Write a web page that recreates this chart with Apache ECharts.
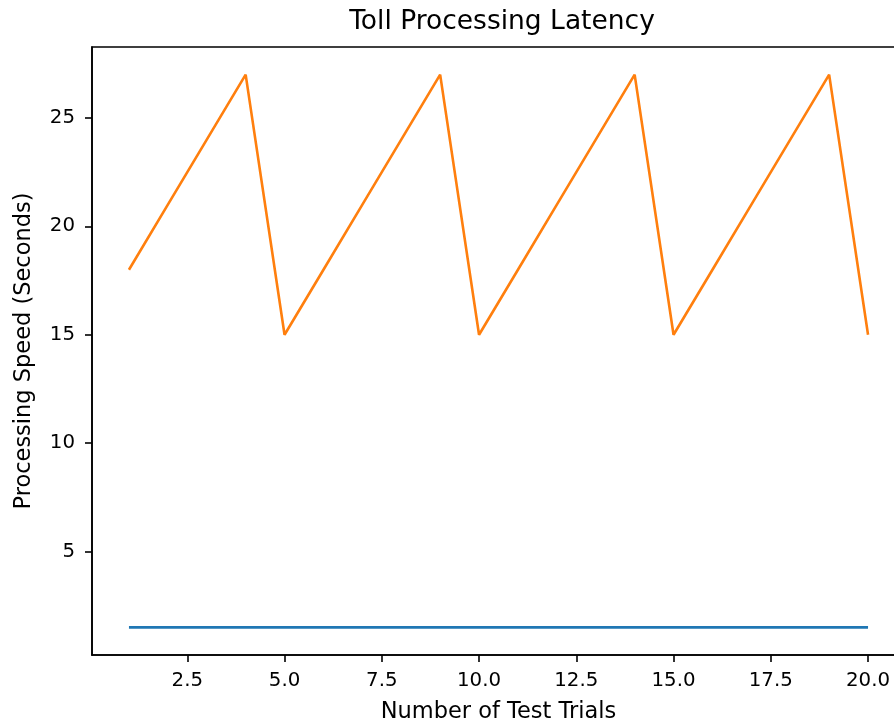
<!DOCTYPE html>
<html><head><meta charset="utf-8">
<script src="https://cdn.jsdelivr.net/npm/echarts@6/dist/echarts.min.js"></script>
<style>html,body{margin:0;padding:0;background:#fff}#c{width:894px;height:722px}</style>
</head><body><div id="c"></div>
<script>
const trials = [1,2,3,4,5,6,7,8,9,10,11,12,13,14,15,16,17,18,19,20];
const seriesA = [1.5,1.5,1.5,1.5,1.5,1.5,1.5,1.5,1.5,1.5,1.5,1.5,1.5,1.5,1.5,1.5,1.5,1.5,1.5,1.5];
const seriesB = [18,21,24,27,15,18,21,24,27,15,18,21,24,27,15,18,21,24,27,15];
const xTicks = [2.5,5.0,7.5,10.0,12.5,15.0,17.5,20.0];
const yTicks = [5,10,15,20,25];

const font = 'DejaVu Sans';
const chart = echarts.init(document.getElementById('c'), null, {renderer:'canvas'});
chart.setOption({
  animation:false,
  backgroundColor:'#fff',
  title:{text:'Toll Processing Latency', left:497, top:4, textAlign:'center',
    textStyle:{fontFamily:font, fontSize:26.5, fontWeight:'normal', color:'#000'}},
  grid:{left:92, top:47, width:813, height:608, show:true, borderColor:'#000', borderWidth:1.6,
    backgroundColor:'transparent', outerBoundsMode:'none', containLabel:false},
  xAxis:{type:'value', min:0.05, max:20.95,
    name:'Number of Test Trials', nameLocation:'middle', nameGap:46,
    nameTextStyle:{fontFamily:font, fontSize:22.5, color:'#000'},
    axisLine:{lineStyle:{color:'#000', width:1.6}},
    axisTick:{show:true, length:7, lineStyle:{color:'#000', width:1.6}, customValues:xTicks},
    axisLabel:{fontFamily:font, fontSize:19.8, color:'#000', margin:16, customValues:xTicks,
      formatter:v=>v.toFixed(1)},
    splitLine:{show:false}},
  yAxis:{type:'value', min:0.225, max:28.275,
    name:'Processing Speed (Seconds)', nameLocation:'middle', nameGap:56,
    nameTextStyle:{fontFamily:font, fontSize:22.5, color:'#000'},
    axisLine:{show:true, lineStyle:{color:'#000', width:1.6}},
    axisTick:{show:true, length:7, lineStyle:{color:'#000', width:1.6}, customValues:yTicks},
    axisLabel:{fontFamily:font, fontSize:19.8, color:'#000', margin:17, customValues:yTicks,
      formatter:v=>String(v)},
    splitLine:{show:false}},
  series:[
    {type:'line', data:trials.map((x,i)=>[x,seriesA[i]]), showSymbol:false, symbol:'none',
      lineStyle:{color:'#1f77b4', width:2.6}, itemStyle:{color:'#1f77b4'}},
    {type:'line', data:trials.map((x,i)=>[x,seriesB[i]]), showSymbol:false, symbol:'none',
      lineStyle:{color:'#ff7f0e', width:2.6}, itemStyle:{color:'#ff7f0e'}}
  ]
});
</script></body></html>
